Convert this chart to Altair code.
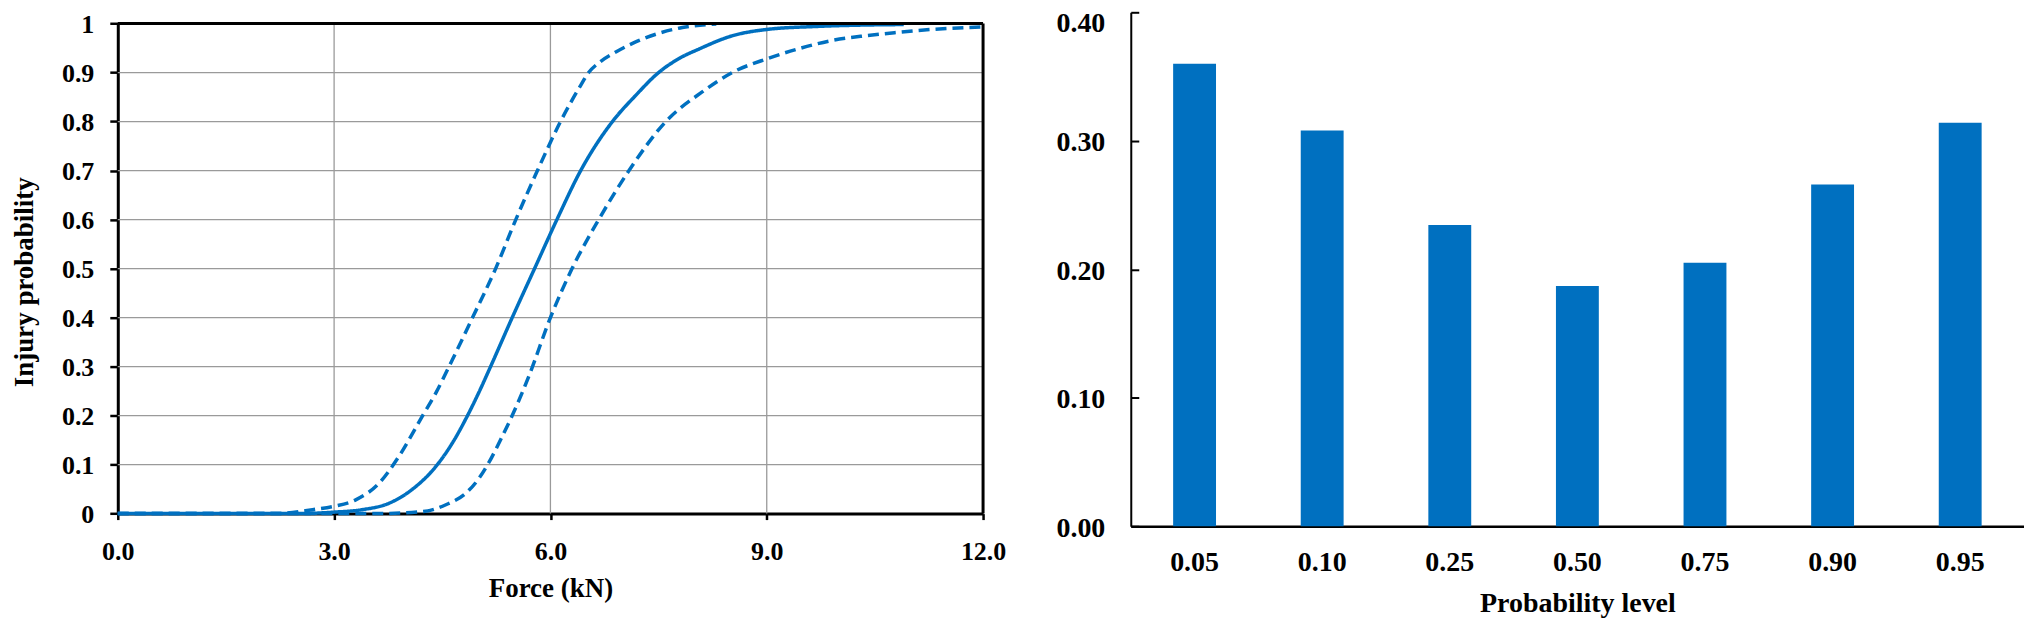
import altair as alt
import pandas as pd

# ---------------- data ----------------
# Left panel: injury probability curves vs force (kN)
force_upper = [0.0, 2.2, 2.7, 3.0, 3.3, 3.63, 3.9, 4.22, 4.41, 4.64, 4.92, 5.24, 5.52, 5.82, 6.14, 6.42, 6.53, 6.69, 6.92, 7.19, 7.83, 8.3]
prob_upper = [0.0, 0.0, 0.008, 0.015, 0.028, 0.063, 0.117, 0.198, 0.246, 0.314, 0.4, 0.5, 0.6, 0.7, 0.8, 0.874, 0.9, 0.922, 0.943, 0.963, 0.992, 0.999]

force_median = [0.0, 2.5, 3.0, 3.39, 3.76, 4.08, 4.41, 4.64, 4.85, 5.01, 5.17, 5.47, 5.78, 6.09, 6.42, 6.86, 7.18, 7.5, 7.8, 8.06, 8.52, 9.0, 9.67, 10.36, 10.9]
prob_median = [0.0, 0.0, 0.003, 0.008, 0.021, 0.049, 0.096, 0.144, 0.2, 0.248, 0.3, 0.4, 0.5, 0.6, 0.7, 0.8, 0.853, 0.9, 0.93, 0.948, 0.975, 0.988, 0.994, 0.997, 0.998]

force_lower = [0.0, 3.6, 4.23, 4.55, 4.83, 5.0, 5.13, 5.33, 5.47, 5.7, 6.0, 6.3, 6.67, 7.09, 7.6, 8.1, 8.52, 9.0, 9.43, 9.89, 10.36, 10.82, 11.28, 12.0]
prob_lower = [0.0, 0.0, 0.004, 0.018, 0.042, 0.07, 0.1, 0.157, 0.2, 0.28, 0.4, 0.5, 0.6, 0.7, 0.8, 0.86, 0.9, 0.928, 0.948, 0.965, 0.975, 0.982, 0.988, 0.993]

x_tick_vals = [0, 3, 6, 9, 12]
x_grid_vals = [3, 6, 9]
y_tick_vals = [round(i * 0.1, 1) for i in range(11)]
y_grid_vals = [round(i * 0.1, 1) for i in range(1, 10)]

# Right panel: bars per probability level
levels = ["0.05", "0.10", "0.25", "0.50", "0.75", "0.90", "0.95"]
bar_values = [0.360, 0.308, 0.2345, 0.187, 0.205, 0.266, 0.314]
r_tick_vals = [0.0, 0.1, 0.2, 0.3, 0.4]

# ---------------- styling / layout ----------------
BLUE = "#0070C0"
FONT = "Liberation Serif"
GRID = "#9A9A9A"

W, H = 1910, 515
LX = [0, 867]          # left panel x range (px, view coords)
LY = [502.3, 11.3]     # left panel y range
RX = [1015, 1910]      # right panel x range
RY = [H, 0]            # right panel y range

curves = pd.concat([
    pd.DataFrame({"force": force_upper, "prob": prob_upper, "series": "upper"}),
    pd.DataFrame({"force": force_median, "prob": prob_median, "series": "median"}),
    pd.DataFrame({"force": force_lower, "prob": prob_lower, "series": "lower"}),
], ignore_index=True)

bars_df = pd.DataFrame({"level": levels, "value": bar_values})
hgrid_df = pd.DataFrame({"p": y_grid_vals})
vgrid_df = pd.DataFrame({"f": x_grid_vals})
one = pd.DataFrame({"a": [0]})


def xs_left():
    return alt.Scale(domain=[0, 12], range=LX, nice=False, zero=False)


def ys_left():
    return alt.Scale(domain=[0, 1], range=LY, nice=False, zero=False)


hgrid = alt.Chart(hgrid_df).mark_rule(color=GRID, strokeWidth=1.3).encode(
    y=alt.Y("p:Q", scale=ys_left(), axis=None),
    x=alt.XDatum(datum=0, scale=xs_left(), axis=None),
    x2=alt.X2Datum(datum=12),
)
vgrid = alt.Chart(vgrid_df).mark_rule(color=GRID, strokeWidth=1.3).encode(
    x=alt.X("f:Q", scale=xs_left(), axis=None),
    y=alt.YDatum(datum=0, scale=ys_left(), axis=None),
    y2=alt.Y2Datum(datum=1),
)

lines = alt.Chart(curves).mark_line(
    color=BLUE, strokeWidth=3.5, interpolate="monotone", strokeCap="butt"
).encode(
    x=alt.X(
        "force:Q", scale=xs_left(),
        axis=alt.Axis(
            orient="bottom", offset=-12.7, values=x_tick_vals, format=".1f",
            title="Force (kN)", domainWidth=3, tickWidth=2.5, tickSize=6,
            labelPadding=19, labelFontSize=26, titleFontSize=27, titlePadding=11,
        ),
    ),
    y=alt.Y(
        "prob:Q", scale=ys_left(),
        axis=alt.Axis(
            orient="left", offset=0, values=y_tick_vals, format=".1~f",
            title="Injury probability", domainWidth=3, tickWidth=2.5, tickSize=8,
            labelPadding=16, labelOffset=1, labelFontSize=26, titleFontSize=27,
            titlePadding=23, titleY=270,
        ),
    ),
    strokeDash=alt.StrokeDash(
        "series:N",
        scale=alt.Scale(domain=["upper", "median", "lower"], range=[[11, 6], [1, 0], [11, 6]]),
        legend=None,
    ),
    order=alt.Order("force:Q"),
)

border_top = alt.Chart(one).mark_rule(color="black", strokeWidth=3).encode(
    y=alt.YDatum(datum=1, scale=ys_left(), axis=None),
    x=alt.XDatum(datum=0, scale=xs_left(), axis=None),
    x2=alt.X2Datum(datum=12),
)
border_right = alt.Chart(one).mark_rule(color="black", strokeWidth=3).encode(
    x=alt.XDatum(datum=12, scale=xs_left(), axis=None),
    y=alt.YDatum(datum=0, scale=ys_left(), axis=None),
    y2=alt.Y2Datum(datum=1),
)

bars = alt.Chart(bars_df).mark_bar(color=BLUE).encode(
    x=alt.X(
        "level:N", sort=levels,
        scale=alt.Scale(domain=levels, range=RX, paddingInner=0.664, paddingOuter=0.332),
        axis=alt.Axis(
            orient="bottom", offset=0, title="Probability level", labelAngle=0,
            ticks=False, tickSize=0, domainWidth=2.5, labelPadding=22,
            labelFontSize=28, titleFontSize=28, titlePadding=13,
        ),
    ),
    y=alt.Y(
        "value:Q",
        scale=alt.Scale(domain=[0, 0.4], range=RY, nice=False, zero=True),
        axis=alt.Axis(
            orient="left", offset=-(RX[0] - LX[0]), values=r_tick_vals, format=".2f",
            title=None, domainWidth=2, tickWidth=2, tickSize={"expr": "-8"},
            labelPadding=34, labelFontSize=28,
            labelOffset={"condition": {"test": "datum.value > 0.35", "value": 11}, "value": 2},
        ),
    ),
)

chart = (
    alt.layer(hgrid, vgrid, lines, border_top, border_right, bars)
    .resolve_scale(x="independent", y="independent")
    .properties(
        width=W, height=H,
        padding={"left": 110, "top": 3.7, "right": 0, "bottom": 94},
        autosize=alt.AutoSizeParams(type="none"),
        background="white",
    )
    .configure_view(strokeWidth=0)
    .configure_axis(
        labelFont=FONT, labelFontWeight="bold", labelColor="black",
        titleFont=FONT, titleFontWeight="bold", titleColor="black",
        domainColor="black", tickColor="black", grid=False,
        labelFlush=False, labelOverlap=False,
    )
)

chart.save("out.html", embed_options={"renderer": "svg", "actions": False})
